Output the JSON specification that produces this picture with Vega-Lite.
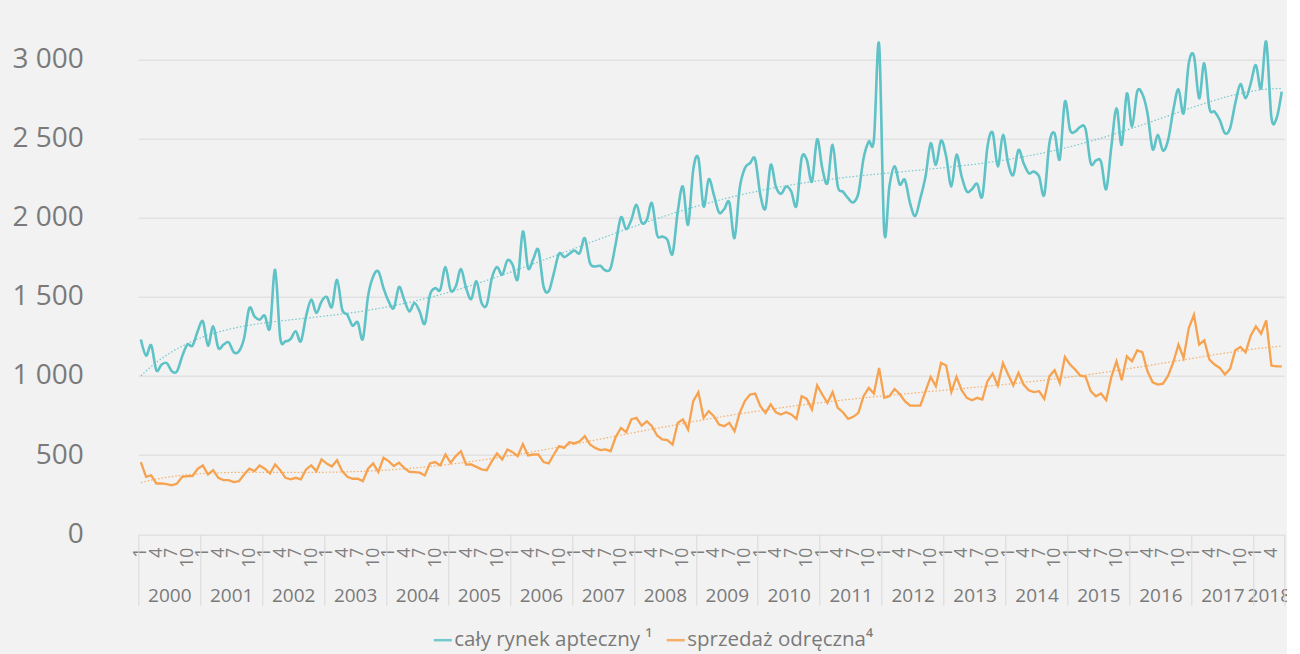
{
  "$schema": "https://vega.github.io/schema/vega-lite/v6.json",
  "autosize": {"type": "none"},
  "padding": {"left": 138.3, "top": 27.7, "right": 2.7, "bottom": 120},
  "width": 1146,
  "height": 506.6,
  "background": "#f2f2f2",
  "config": {
    "view": {"stroke": null},
    "font": "Open Sans",
    "axis": {"labelFont": "Open Sans", "domain": false, "grid": false, "labelColor": "#808080"},
    "legend": {"labelFont": "Open Sans"}
  },
  "datasets": {
    "rynek": [
      {"i":0,"wartosc":1230},{"i":1,"wartosc":1129},{"i":2,"wartosc":1194},{"i":3,"wartosc":1036},{"i":4,"wartosc":1072},{"i":5,"wartosc":1082},{"i":6,"wartosc":1030},{"i":7,"wartosc":1030},{"i":8,"wartosc":1124},{"i":9,"wartosc":1198},{"i":10,"wartosc":1192},{"i":11,"wartosc":1282},
      {"i":12,"wartosc":1345},{"i":13,"wartosc":1192},{"i":14,"wartosc":1314},{"i":15,"wartosc":1177},{"i":16,"wartosc":1198},{"i":17,"wartosc":1213},{"i":18,"wartosc":1150},{"i":19,"wartosc":1156},{"i":20,"wartosc":1240},{"i":21,"wartosc":1429},{"i":22,"wartosc":1377},{"i":23,"wartosc":1356},
      {"i":24,"wartosc":1381},{"i":25,"wartosc":1303},{"i":26,"wartosc":1671},{"i":27,"wartosc":1240},{"i":28,"wartosc":1219},{"i":29,"wartosc":1234},{"i":30,"wartosc":1282},{"i":31,"wartosc":1219},{"i":32,"wartosc":1377},{"i":33,"wartosc":1482},{"i":34,"wartosc":1398},{"i":35,"wartosc":1471},
      {"i":36,"wartosc":1499},{"i":37,"wartosc":1436},{"i":38,"wartosc":1608},{"i":39,"wartosc":1419},{"i":40,"wartosc":1387},{"i":41,"wartosc":1318},{"i":42,"wartosc":1339},{"i":43,"wartosc":1234},{"i":44,"wartosc":1503},{"i":45,"wartosc":1629},{"i":46,"wartosc":1661},{"i":47,"wartosc":1555},
      {"i":48,"wartosc":1471},{"i":49,"wartosc":1429},{"i":50,"wartosc":1562},{"i":51,"wartosc":1482},{"i":52,"wartosc":1408},{"i":53,"wartosc":1461},{"i":54,"wartosc":1408},{"i":55,"wartosc":1330},{"i":56,"wartosc":1513},{"i":57,"wartosc":1555},{"i":58,"wartosc":1545},{"i":59,"wartosc":1688},
      {"i":60,"wartosc":1541},{"i":61,"wartosc":1566},{"i":62,"wartosc":1675},{"i":63,"wartosc":1555},{"i":64,"wartosc":1486},{"i":65,"wartosc":1598},{"i":66,"wartosc":1461},{"i":67,"wartosc":1450},{"i":68,"wartosc":1619},{"i":69,"wartosc":1688},{"i":70,"wartosc":1640},{"i":71,"wartosc":1730},
      {"i":72,"wartosc":1703},{"i":73,"wartosc":1612},{"i":74,"wartosc":1913},{"i":75,"wartosc":1682},{"i":76,"wartosc":1738},{"i":77,"wartosc":1797},{"i":78,"wartosc":1566},{"i":79,"wartosc":1535},{"i":80,"wartosc":1650},{"i":81,"wartosc":1772},{"i":82,"wartosc":1751},{"i":83,"wartosc":1772},
      {"i":84,"wartosc":1793},{"i":85,"wartosc":1776},{"i":86,"wartosc":1871},{"i":87,"wartosc":1713},{"i":88,"wartosc":1692},{"i":89,"wartosc":1696},{"i":90,"wartosc":1667},{"i":91,"wartosc":1682},{"i":92,"wartosc":1839},{"i":93,"wartosc":2003},{"i":94,"wartosc":1928},{"i":95,"wartosc":1986},
      {"i":96,"wartosc":2081},{"i":97,"wartosc":1970},{"i":98,"wartosc":1986},{"i":99,"wartosc":2092},{"i":100,"wartosc":1892},{"i":101,"wartosc":1881},{"i":102,"wartosc":1860},{"i":103,"wartosc":1772},{"i":104,"wartosc":2039},{"i":105,"wartosc":2197},{"i":106,"wartosc":1955},{"i":107,"wartosc":2302},
      {"i":108,"wartosc":2376},{"i":109,"wartosc":2071},{"i":110,"wartosc":2243},{"i":111,"wartosc":2144},{"i":112,"wartosc":2033},{"i":113,"wartosc":2054},{"i":114,"wartosc":2096},{"i":115,"wartosc":1871},{"i":116,"wartosc":2186},{"i":117,"wartosc":2312},{"i":118,"wartosc":2344},{"i":119,"wartosc":2369},
      {"i":120,"wartosc":2144},{"i":121,"wartosc":2060},{"i":122,"wartosc":2333},{"i":123,"wartosc":2197},{"i":124,"wartosc":2151},{"i":125,"wartosc":2197},{"i":126,"wartosc":2165},{"i":127,"wartosc":2075},{"i":128,"wartosc":2376},{"i":129,"wartosc":2365},{"i":130,"wartosc":2228},{"i":131,"wartosc":2495},
      {"i":132,"wartosc":2312},{"i":133,"wartosc":2218},{"i":134,"wartosc":2460},{"i":135,"wartosc":2197},{"i":136,"wartosc":2165},{"i":137,"wartosc":2123},{"i":138,"wartosc":2096},{"i":139,"wartosc":2155},{"i":140,"wartosc":2376},{"i":141,"wartosc":2481},{"i":142,"wartosc":2491},{"i":143,"wartosc":3097},
      {"i":144,"wartosc":1913},{"i":145,"wartosc":2197},{"i":146,"wartosc":2325},{"i":147,"wartosc":2210},{"i":148,"wartosc":2239},{"i":149,"wartosc":2092},{"i":150,"wartosc":2010},{"i":151,"wartosc":2123},{"i":152,"wartosc":2260},{"i":153,"wartosc":2470},{"i":154,"wartosc":2333},{"i":155,"wartosc":2487},
      {"i":156,"wartosc":2386},{"i":157,"wartosc":2197},{"i":158,"wartosc":2397},{"i":159,"wartosc":2260},{"i":160,"wartosc":2165},{"i":161,"wartosc":2180},{"i":162,"wartosc":2214},{"i":163,"wartosc":2134},{"i":164,"wartosc":2449},{"i":165,"wartosc":2537},{"i":166,"wartosc":2323},{"i":167,"wartosc":2523},
      {"i":168,"wartosc":2344},{"i":169,"wartosc":2270},{"i":170,"wartosc":2428},{"i":171,"wartosc":2344},{"i":172,"wartosc":2281},{"i":173,"wartosc":2291},{"i":174,"wartosc":2260},{"i":175,"wartosc":2144},{"i":176,"wartosc":2470},{"i":177,"wartosc":2533},{"i":178,"wartosc":2369},{"i":179,"wartosc":2733},
      {"i":180,"wartosc":2554},{"i":181,"wartosc":2544},{"i":182,"wartosc":2575},{"i":183,"wartosc":2560},{"i":184,"wartosc":2344},{"i":185,"wartosc":2361},{"i":186,"wartosc":2354},{"i":187,"wartosc":2180},{"i":188,"wartosc":2449},{"i":189,"wartosc":2691},{"i":190,"wartosc":2460},{"i":191,"wartosc":2785},
      {"i":192,"wartosc":2575},{"i":193,"wartosc":2796},{"i":194,"wartosc":2781},{"i":195,"wartosc":2659},{"i":196,"wartosc":2432},{"i":197,"wartosc":2523},{"i":198,"wartosc":2424},{"i":199,"wartosc":2491},{"i":200,"wartosc":2680},{"i":201,"wartosc":2811},{"i":202,"wartosc":2659},{"i":203,"wartosc":2975},
      {"i":204,"wartosc":3021},{"i":205,"wartosc":2754},{"i":206,"wartosc":2975},{"i":207,"wartosc":2691},{"i":208,"wartosc":2670},{"i":209,"wartosc":2617},{"i":210,"wartosc":2533},{"i":211,"wartosc":2565},{"i":212,"wartosc":2722},{"i":213,"wartosc":2844},{"i":214,"wartosc":2754},{"i":215,"wartosc":2849},
      {"i":216,"wartosc":2964},{"i":217,"wartosc":2817},{"i":218,"wartosc":3111},{"i":219,"wartosc":2634},{"i":220,"wartosc":2628},{"i":221,"wartosc":2796}
    ],
    "odreczna": [
      {"i":0,"wartosc":456},{"i":1,"wartosc":363},{"i":2,"wartosc":372},{"i":3,"wartosc":321},{"i":4,"wartosc":321},{"i":5,"wartosc":317},{"i":6,"wartosc":309},{"i":7,"wartosc":321},{"i":8,"wartosc":363},{"i":9,"wartosc":368},{"i":10,"wartosc":368},{"i":11,"wartosc":414},
      {"i":12,"wartosc":435},{"i":13,"wartosc":378},{"i":14,"wartosc":405},{"i":15,"wartosc":357},{"i":16,"wartosc":342},{"i":17,"wartosc":342},{"i":18,"wartosc":330},{"i":19,"wartosc":336},{"i":20,"wartosc":378},{"i":21,"wartosc":414},{"i":22,"wartosc":399},{"i":23,"wartosc":435},
      {"i":24,"wartosc":414},{"i":25,"wartosc":384},{"i":26,"wartosc":441},{"i":27,"wartosc":405},{"i":28,"wartosc":357},{"i":29,"wartosc":347},{"i":30,"wartosc":357},{"i":31,"wartosc":347},{"i":32,"wartosc":410},{"i":33,"wartosc":435},{"i":34,"wartosc":399},{"i":35,"wartosc":473},
      {"i":36,"wartosc":447},{"i":37,"wartosc":428},{"i":38,"wartosc":468},{"i":39,"wartosc":399},{"i":40,"wartosc":363},{"i":41,"wartosc":351},{"i":42,"wartosc":351},{"i":43,"wartosc":336},{"i":44,"wartosc":414},{"i":45,"wartosc":448},{"i":46,"wartosc":393},{"i":47,"wartosc":483},
      {"i":48,"wartosc":462},{"i":49,"wartosc":431},{"i":50,"wartosc":452},{"i":51,"wartosc":420},{"i":52,"wartosc":395},{"i":53,"wartosc":393},{"i":54,"wartosc":389},{"i":55,"wartosc":372},{"i":56,"wartosc":448},{"i":57,"wartosc":456},{"i":58,"wartosc":435},{"i":59,"wartosc":504},
      {"i":60,"wartosc":452},{"i":61,"wartosc":494},{"i":62,"wartosc":525},{"i":63,"wartosc":441},{"i":64,"wartosc":441},{"i":65,"wartosc":426},{"i":66,"wartosc":410},{"i":67,"wartosc":405},{"i":68,"wartosc":462},{"i":69,"wartosc":511},{"i":70,"wartosc":473},{"i":71,"wartosc":536},
      {"i":72,"wartosc":519},{"i":73,"wartosc":494},{"i":74,"wartosc":570},{"i":75,"wartosc":498},{"i":76,"wartosc":504},{"i":77,"wartosc":504},{"i":78,"wartosc":456},{"i":79,"wartosc":448},{"i":80,"wartosc":504},{"i":81,"wartosc":557},{"i":82,"wartosc":546},{"i":83,"wartosc":582},
      {"i":84,"wartosc":574},{"i":85,"wartosc":588},{"i":86,"wartosc":620},{"i":87,"wartosc":567},{"i":88,"wartosc":546},{"i":89,"wartosc":532},{"i":90,"wartosc":536},{"i":91,"wartosc":525},{"i":92,"wartosc":616},{"i":93,"wartosc":672},{"i":94,"wartosc":645},{"i":95,"wartosc":725},
      {"i":96,"wartosc":736},{"i":97,"wartosc":687},{"i":98,"wartosc":714},{"i":99,"wartosc":683},{"i":100,"wartosc":624},{"i":101,"wartosc":599},{"i":102,"wartosc":595},{"i":103,"wartosc":567},{"i":104,"wartosc":704},{"i":105,"wartosc":725},{"i":106,"wartosc":662},{"i":107,"wartosc":841},
      {"i":108,"wartosc":898},{"i":109,"wartosc":736},{"i":110,"wartosc":778},{"i":111,"wartosc":746},{"i":112,"wartosc":693},{"i":113,"wartosc":683},{"i":114,"wartosc":704},{"i":115,"wartosc":651},{"i":116,"wartosc":767},{"i":117,"wartosc":841},{"i":118,"wartosc":883},{"i":119,"wartosc":889},
      {"i":120,"wartosc":809},{"i":121,"wartosc":767},{"i":122,"wartosc":820},{"i":123,"wartosc":771},{"i":124,"wartosc":757},{"i":125,"wartosc":771},{"i":126,"wartosc":757},{"i":127,"wartosc":729},{"i":128,"wartosc":872},{"i":129,"wartosc":855},{"i":130,"wartosc":788},{"i":131,"wartosc":940},
      {"i":132,"wartosc":883},{"i":133,"wartosc":830},{"i":134,"wartosc":898},{"i":135,"wartosc":799},{"i":136,"wartosc":771},{"i":137,"wartosc":729},{"i":138,"wartosc":742},{"i":139,"wartosc":767},{"i":140,"wartosc":872},{"i":141,"wartosc":925},{"i":142,"wartosc":889},{"i":143,"wartosc":1051},
      {"i":144,"wartosc":862},{"i":145,"wartosc":872},{"i":146,"wartosc":918},{"i":147,"wartosc":886},{"i":148,"wartosc":841},{"i":149,"wartosc":813},{"i":150,"wartosc":813},{"i":151,"wartosc":813},{"i":152,"wartosc":904},{"i":153,"wartosc":994},{"i":154,"wartosc":935},{"i":155,"wartosc":1082},
      {"i":156,"wartosc":1066},{"i":157,"wartosc":898},{"i":158,"wartosc":994},{"i":159,"wartosc":910},{"i":160,"wartosc":862},{"i":161,"wartosc":847},{"i":162,"wartosc":862},{"i":163,"wartosc":851},{"i":164,"wartosc":967},{"i":165,"wartosc":1015},{"i":166,"wartosc":940},{"i":167,"wartosc":1082},
      {"i":168,"wartosc":1009},{"i":169,"wartosc":940},{"i":170,"wartosc":1019},{"i":171,"wartosc":946},{"i":172,"wartosc":910},{"i":173,"wartosc":898},{"i":174,"wartosc":904},{"i":175,"wartosc":855},{"i":176,"wartosc":998},{"i":177,"wartosc":1036},{"i":178,"wartosc":956},{"i":179,"wartosc":1120},
      {"i":180,"wartosc":1072},{"i":181,"wartosc":1040},{"i":182,"wartosc":1002},{"i":183,"wartosc":996},{"i":184,"wartosc":904},{"i":185,"wartosc":872},{"i":186,"wartosc":889},{"i":187,"wartosc":847},{"i":188,"wartosc":994},{"i":189,"wartosc":1093},{"i":190,"wartosc":973},{"i":191,"wartosc":1124},
      {"i":192,"wartosc":1093},{"i":193,"wartosc":1162},{"i":194,"wartosc":1150},{"i":195,"wartosc":1030},{"i":196,"wartosc":960},{"i":197,"wartosc":946},{"i":198,"wartosc":952},{"i":199,"wartosc":1002},{"i":200,"wartosc":1087},{"i":201,"wartosc":1198},{"i":202,"wartosc":1114},{"i":203,"wartosc":1303},
      {"i":204,"wartosc":1387},{"i":205,"wartosc":1198},{"i":206,"wartosc":1225},{"i":207,"wartosc":1103},{"i":208,"wartosc":1072},{"i":209,"wartosc":1051},{"i":210,"wartosc":1009},{"i":211,"wartosc":1045},{"i":212,"wartosc":1162},{"i":213,"wartosc":1183},{"i":214,"wartosc":1150},{"i":215,"wartosc":1255},
      {"i":216,"wartosc":1313},{"i":217,"wartosc":1267},{"i":218,"wartosc":1351},{"i":219,"wartosc":1066},{"i":220,"wartosc":1061},{"i":221,"wartosc":1061}
    ]
  },
  "encoding": {
    "y": {
      "field": "wartosc", "type": "quantitative",
      "scale": {"domain": [0, 3200], "nice": false},
      "axis": {
        "title": null, "values": [0, 500, 1000, 1500, 2000, 2500, 3000],
        "grid": true, "gridColor": "#d9d9d9", "gridWidth": 1,
        "ticks": false, "labelPadding": 55, "labelFontSize": 28, "labelColor": "#7a7a7a",
        "labelExpr": "replace(format(datum.value, ','), ',', ' ')"
      }
    }
  },
  "layer": [
    {
      "data": {"name": "rynek"},
      "mark": {"type": "line", "interpolate": "cardinal", "tension": 0, "strokeWidth": 2.6, "clip": false},
      "encoding": {
        "x": {
          "field": "i", "type": "quantitative",
          "scale": {"domain": [-0.5, 221.5], "nice": false, "zero": false},
          "axis": {
            "orient": "bottom", "title": null, "ticks": false,
            "values": [0,3,6,9,12,15,18,21,24,27,30,33,36,39,42,45,48,51,54,57,60,63,66,69,72,75,78,81,84,87,90,93,96,99,102,105,108,111,114,117,120,123,126,129,132,135,138,141,144,147,150,153,156,159,162,165,168,171,174,177,180,183,186,189,192,195,198,201,204,207,210,213,216,219],
            "labelExpr": "'' + (datum.value % 12 + 1)",
            "labelAngle": 270, "labelAlign": "right", "labelBaseline": "middle",
            "labelPadding": 13, "labelFontSize": 17.5, "labelColor": "#7f7f7f",
            "labelOverlap": false, "labelBound": false, "labelFlush": false
          }
        },
        "color": {
          "datum": "cały rynek apteczny",
          "scale": {"domain": ["cały rynek apteczny", "sprzedaż odręczna"], "range": ["#5ec2c6", "#f6a24f"]},
          "legend": {
            "orient": "none", "legendX": 294, "legendY": 602, "direction": "horizontal",
            "title": null, "symbolType": "stroke", "symbolSize": 324, "symbolStrokeWidth": 2.5,
            "labelFontSize": 20.5, "labelColor": "#7a7a7a", "labelOffset": 1, "columnPadding": 8,
            "labelLimit": 400,
            "labelExpr": "datum.label == 'cały rynek apteczny' ? 'cały rynek apteczny ¹' : 'sprzedaż odręczna⁴'"
          }
        }
      }
    },
    {
      "data": {"name": "odreczna"},
      "mark": {"type": "line", "strokeWidth": 2.3, "clip": false},
      "encoding": {
        "x": {
          "field": "i", "type": "quantitative",
          "axis": {
            "orient": "bottom", "title": null, "ticks": false,
            "values": [5.5,17.5,29.5,41.5,53.5,65.5,77.5,89.5,101.5,113.5,125.5,137.5,149.5,161.5,173.5,185.5,197.5,209.5,218.5],
            "labelExpr": "datum.value > 215 ? '2018' : '' + (2000 + floor(datum.value / 12))",
            "labelAngle": 0, "labelAlign": "center", "labelBaseline": "top",
            "labelPadding": 52, "labelFontSize": 19, "labelColor": "#7a7a7a",
            "labelOverlap": false, "labelBound": false, "labelFlush": false
          }
        },
        "color": {"datum": "sprzedaż odręczna"}
      }
    },
    {
      "data": {"name": "rynek"},
      "transform": [
        {"regression": "wartosc", "on": "i", "method": "poly", "order": 6, "extent": [0, 221]}
      ],
      "mark": {"type": "line", "strokeWidth": 1.2, "strokeDash": [1.5, 2], "opacity": 0.85},
      "encoding": {
        "x": {
          "field": "i", "type": "quantitative",
          "axis": {
            "orient": "bottom", "title": null, "labels": false,
            "values": [-0.5,11.5,23.5,35.5,47.5,59.5,71.5,83.5,95.5,107.5,119.5,131.5,143.5,155.5,167.5,179.5,191.5,203.5,215.5,221.5],
            "ticks": true, "tickSize": 71, "tickColor": "#d9d9d9", "tickWidth": 1
          }
        },
        "color": {"datum": "cały rynek apteczny"}
      }
    },
    {
      "data": {"name": "odreczna"},
      "transform": [
        {"regression": "wartosc", "on": "i", "method": "poly", "order": 6, "extent": [0, 221]}
      ],
      "mark": {"type": "line", "strokeWidth": 1.2, "strokeDash": [1.5, 2], "opacity": 0.85},
      "encoding": {
        "x": {"field": "i", "type": "quantitative", "axis": null},
        "color": {"datum": "sprzedaż odręczna"}
      }
    }
  ],
  "resolve": {"axis": {"x": "independent"}}
}
